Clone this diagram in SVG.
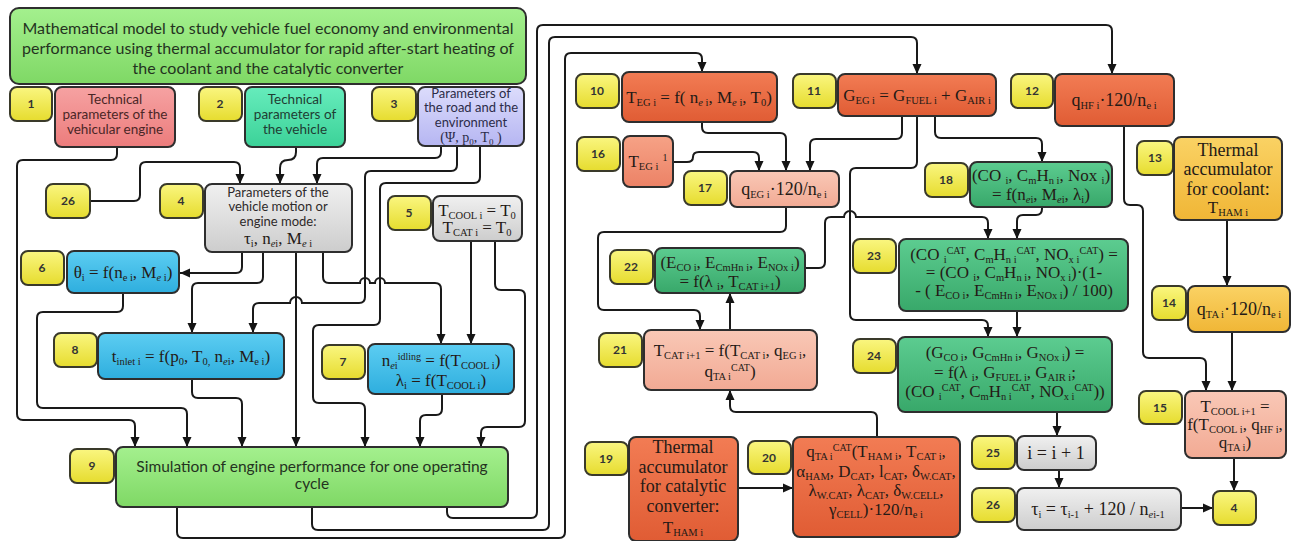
<svg xmlns="http://www.w3.org/2000/svg" width="1296" height="541" viewBox="0 0 1296 541">
<defs>
<linearGradient id="gG" x1="0" y1="0" x2="0" y2="1"><stop offset="0" stop-color="#a4f08e"/><stop offset="1" stop-color="#7fd865"/></linearGradient>
<linearGradient id="gY" x1="0" y1="0" x2="0" y2="1"><stop offset="0" stop-color="#faf680"/><stop offset="1" stop-color="#e6dc2e"/></linearGradient>
<linearGradient id="gR" x1="0" y1="0" x2="0" y2="1"><stop offset="0" stop-color="#f6a2a2"/><stop offset="1" stop-color="#ec7c7c"/></linearGradient>
<linearGradient id="gT" x1="0" y1="0" x2="0" y2="1"><stop offset="0" stop-color="#66ecbc"/><stop offset="1" stop-color="#3cd298"/></linearGradient>
<linearGradient id="gL" x1="0" y1="0" x2="0" y2="1"><stop offset="0" stop-color="#dcdcfc"/><stop offset="1" stop-color="#b6b6f2"/></linearGradient>
<linearGradient id="gS" x1="0" y1="0" x2="0" y2="1"><stop offset="0" stop-color="#f0f0f0"/><stop offset="1" stop-color="#cdcdcd"/></linearGradient>
<linearGradient id="gB" x1="0" y1="0" x2="0" y2="1"><stop offset="0" stop-color="#5ccdf2"/><stop offset="1" stop-color="#2eaede"/></linearGradient>
<linearGradient id="gO" x1="0" y1="0" x2="0" y2="1"><stop offset="0" stop-color="#f27c54"/><stop offset="1" stop-color="#e05c34"/></linearGradient>
<linearGradient id="gP" x1="0" y1="0" x2="0" y2="1"><stop offset="0" stop-color="#f6a286"/><stop offset="1" stop-color="#ec8266"/></linearGradient>
<linearGradient id="gQ" x1="0" y1="0" x2="0" y2="1"><stop offset="0" stop-color="#f9c8b6"/><stop offset="1" stop-color="#f2aa94"/></linearGradient>
<linearGradient id="gE" x1="0" y1="0" x2="0" y2="1"><stop offset="0" stop-color="#5ccc90"/><stop offset="1" stop-color="#38a86a"/></linearGradient>
<linearGradient id="gA" x1="0" y1="0" x2="0" y2="1"><stop offset="0" stop-color="#fad264"/><stop offset="1" stop-color="#f0b636"/></linearGradient>
<marker id="ah" viewBox="0 0 10 10" refX="10" refY="5" markerWidth="10" markerHeight="10" markerUnits="userSpaceOnUse" orient="auto"><path d="M0,0.5 L10,5 L0,9.5 z" fill="#151515"/></marker>
</defs>
<style>
.bx{stroke:#2e2e2e;stroke-width:2}
.bd{fill:url(#gY);stroke:#3a3a2a;stroke-width:2}
.n{font-family:Lato,"Open Sans","DejaVu Sans",sans-serif;font-size:12px;font-weight:bold;fill:#333;text-anchor:middle}
.t{font-family:Lato,"Open Sans","DejaVu Sans",sans-serif;font-size:13.5px;fill:#2e2a2a;text-anchor:middle}
.f{font-family:"Liberation Serif","DejaVu Serif",serif;font-size:17px;fill:#241a16;text-anchor:middle}
.s{font-size:10.5px;baseline-shift:-3px}
.p{font-size:10px;baseline-shift:6px}
.e{font-style:italic}
#connectors path{fill:none;stroke:#1a1a1a;stroke-width:2}
.a{marker-end:url(#ah)}
</style>
<rect width="1296" height="541" fill="#ffffff"/>

<g id="connectors">
<path class="a" d="M117,147 V154 Q117,160 111,160 H23 Q17,160 17,166 V414 Q17,420 23,420 H129 Q135,420 135,426 V447"/>
<path class="a" d="M90,201 H134 Q140,201 140,195 V168 Q140,162 146,162 H234 Q240,162 240,168 V184"/>
<path class="a" d="M296,147 V152 Q296,160 288,160 Q280,160 280,168 V184"/>
<path class="a" d="M441,146 V152 Q441,158 435,158 H323 Q317,158 317,164 V184"/>
<path class="a" d="M457,146 V165 Q457,171 451,171 H371 Q365,171 365,177 V297 Q365,303 359,303 H302 A6,6 0 0 0 290,303 H259 Q253,303 253,309 V333"/>
<path class="a" d="M480,146 V177 Q480,183 474,183 H386 Q380,183 380,189 V319 Q380,325 374,325 H319 Q313,325 313,331 V397 Q313,403 319,403 H359 Q365,403 365,409 V447"/>
<path class="a" d="M242,252 V267 Q242,273 236,273 H180"/>
<path class="a" d="M263,252 V277 Q263,283 257,283 H198 Q192,283 192,289 V333"/>
<path class="a" d="M296,252 V447"/>
<path class="a" d="M323,252 V277 Q323,283 329,283 H360 A5,5 0 0 1 370,283 H375 A5,5 0 0 1 385,283 H435 Q441,283 441,289 V344"/>
<path class="a" d="M471,241 V344"/>
<path class="a" d="M495,241 V284 Q495,290 501,290 H519 Q525,290 525,296 V421 Q525,427 519,427 H487 Q481,427 481,433 V447"/>
<path class="a" d="M442,394 V409 Q442,415 436,415 H426 Q420,415 420,421 V447"/>
<path class="a" d="M123,293 V306 Q123,312 117,312 H43 Q37,312 37,318 V402 Q37,408 43,408 H181 Q187,408 187,414 V447"/>
<path class="a" d="M192,379 V392 Q192,398 198,398 H236 Q242,398 242,404 V447"/>
<path class="a" d="M447,507 V512 Q447,518 453,518 H531 Q537,518 537,512 V31 Q537,25 543,25 H1106 Q1112,25 1112,31 V74"/>
<path class="a" d="M312,507 V524 Q312,530 318,530 H543 Q549,530 549,524 V43 Q549,37 555,37 H911 Q917,37 917,43 V74"/>
<path class="a" d="M177,507 V532 Q177,538 183,538 H559 Q565,538 565,532 V59 Q565,53 571,53 H696 Q702,53 702,59 V72"/>
<path class="a" d="M702,122 V127 Q702,133 708,133 H780 Q786,133 786,139 V171"/>
<path class="a" d="M673,162 H687 Q693,162 693,157 Q693,152 699,152 H753 Q759,152 759,158 V171"/>
<path class="a" d="M902,116 V133 Q902,139 896,139 H816 Q810,139 810,145 V171"/>
<path class="a" d="M917,116 V162 Q917,168 911,168 H856 Q850,168 850,174 V314 Q850,320 856,320 H982 Q988,320 988,326 V337"/>
<path class="a" d="M935,116 V132 Q935,138 941,138 H1036 Q1042,138 1042,144 V162"/>
<path class="a" d="M1042,207 V209 Q1042,215 1036,215 H1023 Q1017,215 1017,221 V239"/>
<path class="a" d="M805,268 H819 Q825,268 825,262 V223 Q825,217 831,217 H844 A6,6 0 0 1 856,217 H982 Q988,217 988,223 V239"/>
<path class="a" d="M1017,311 V337"/>
<path class="a" d="M786,207 V226 Q786,232 780,232 H604 Q598,232 598,238 V304 Q598,310 604,310 H694 Q700,310 700,316 V330"/>
<path class="a" d="M730,330 V293"/>
<path class="a" d="M877,437 V418 Q877,412 871,412 H736 Q730,412 730,406 V390"/>
<path class="a" d="M738,488 H793"/>
<path class="a" d="M1124,126 V199 Q1124,205 1130,205 H1137 Q1143,205 1143,211 V352 Q1143,358 1149,358 H1200 Q1206,358 1206,364 V391"/>
<path class="a" d="M1227,220 V286"/>
<path class="a" d="M1232,332 V391"/>
<path class="a" d="M1057,412 V436"/>
<path class="a" d="M1059,470 V488"/>
<path class="a" d="M1181,508 H1213"/>
<path class="a" d="M1234,458 V491"/>
</g>

<g id="title">
<rect class="bx" x="10" y="8" width="516" height="76" rx="9" fill="url(#gG)"/>
<text class="t" x="268" y="34" style="font-size:16px;fill:#24331f">Mathematical model to study vehicle fuel economy and environmental</text>
<text class="t" x="268" y="54" style="font-size:16px;fill:#24331f">performance using thermal accumulator for rapid after-start heating of</text>
<text class="t" x="268" y="74" style="font-size:16px;fill:#24331f">the coolant and the catalytic converter</text>
</g>

<g id="node-1">
<rect class="bd" x="10" y="87" width="42" height="34" rx="7"/><text class="n" x="31" y="108">1</text>
<rect class="bx" x="55" y="87" width="120" height="60" rx="7" fill="url(#gR)"/>
<text class="t" x="115" y="104" style="fill:#4a2626">Technical</text>
<text class="t" x="115" y="119" style="fill:#4a2626">parameters of the</text>
<text class="t" x="115" y="134" style="fill:#4a2626">vehicular engine</text>
</g>

<g id="node-2">
<rect class="bd" x="199" y="87" width="43" height="34" rx="7"/><text class="n" x="220" y="108">2</text>
<rect class="bx" x="245" y="87" width="100" height="60" rx="7" fill="url(#gT)"/>
<text class="t" x="295" y="104" style="fill:#1f3d33">Technical</text>
<text class="t" x="295" y="119" style="fill:#1f3d33">parameters of</text>
<text class="t" x="295" y="134" style="fill:#1f3d33">the vehicle</text>
</g>

<g id="node-3">
<rect class="bd" x="372" y="87" width="44" height="34" rx="7"/><text class="n" x="394" y="108">3</text>
<rect class="bx" x="418" y="87" width="106" height="59" rx="7" fill="url(#gL)"/>
<text class="t" x="471" y="98" style="font-size:13px;fill:#2c2c48">Parameters of</text>
<text class="t" x="471" y="112" style="font-size:13px;fill:#2c2c48">the road and the</text>
<text class="t" x="471" y="127" style="font-size:13px;fill:#2c2c48">environment</text>
<text class="f" x="471" y="142" style="font-size:14px;fill:#2c2c48">(Ψ, p<tspan class="s" style="font-size:9px">0</tspan>, T<tspan class="s" style="font-size:9px">0</tspan> )</text>
</g>

<g id="ref-26a">
<rect class="bd" x="46" y="184" width="44" height="34" rx="7"/><text class="n" x="68" y="205">26</text>
</g>

<g id="node-4">
<rect class="bd" x="160" y="184" width="43" height="34" rx="7"/><text class="n" x="181" y="205">4</text>
<rect class="bx" x="205" y="184" width="147" height="68" rx="7" fill="url(#gS)"/>
<text class="t" x="278" y="197" style="font-size:13px">Parameters of the</text>
<text class="t" x="278" y="211" style="font-size:13px">vehicle motion or</text>
<text class="t" x="278" y="226" style="font-size:13px">engine mode:</text>
<text class="f" x="278" y="244">τ<tspan class="s">i</tspan>, n<tspan class="s"><tspan class="e">e</tspan>i</tspan>, M<tspan class="s"><tspan class="e">e</tspan> i</tspan></text>
</g>

<g id="node-5">
<rect class="bd" x="388" y="196" width="43" height="34" rx="7"/><text class="n" x="409" y="217">5</text>
<rect class="bx" x="433" y="196" width="89" height="45" rx="7" fill="url(#gS)"/>
<text class="f" x="477" y="216">T<tspan class="s">COOL i</tspan> = T<tspan class="s">0</tspan></text>
<text class="f" x="477" y="233">T<tspan class="s">CAT i</tspan> = T<tspan class="s">0</tspan></text>
</g>

<g id="node-6">
<rect class="bd" x="21" y="251" width="43" height="34" rx="7"/><text class="n" x="42" y="272">6</text>
<rect class="bx" x="67" y="251" width="112" height="42" rx="7" fill="url(#gB)"/>
<text class="f" x="123" y="278">θ<tspan class="s">i</tspan> = f(n<tspan class="s">e i</tspan>, M<tspan class="s"><tspan class="e">e</tspan> i</tspan>)</text>
</g>

<g id="node-8">
<rect class="bd" x="54" y="333" width="43" height="34" rx="7"/><text class="n" x="75" y="354">8</text>
<rect class="bx" x="98" y="333" width="186" height="46" rx="7" fill="url(#gB)"/>
<text class="f" x="191" y="362">t<tspan class="s">inlet i</tspan> = f(p<tspan class="s">0</tspan>, T<tspan class="s">0,</tspan> n<tspan class="s"><tspan class="e">e</tspan>i</tspan>, M<tspan class="s">e i</tspan>)</text>
</g>

<g id="node-7">
<rect class="bd" x="322" y="345" width="43" height="34" rx="7"/><text class="n" x="343" y="366">7</text>
<rect class="bx" x="368" y="344" width="146" height="50" rx="7" fill="url(#gB)"/>
<text class="f" x="441" y="366">n<tspan class="s"><tspan class="e">e</tspan>i</tspan><tspan class="p">idling</tspan> = f(T<tspan class="s">COOL i</tspan>)</text>
<text class="f" x="441" y="386">λ<tspan class="s">i</tspan> = f(T<tspan class="s">COOL i</tspan>)</text>
</g>

<g id="node-9">
<rect class="bd" x="70" y="449" width="44" height="34" rx="7"/><text class="n" x="92" y="470">9</text>
<rect class="bx" x="116" y="447" width="392" height="60" rx="7" fill="url(#gG)"/>
<text class="t" x="312" y="472" style="font-size:15.5px;fill:#24331f">Simulation of engine performance for one operating</text>
<text class="t" x="312" y="489" style="font-size:15.5px;fill:#24331f">cycle</text>
</g>

<g id="node-10">
<rect class="bd" x="576" y="74" width="43" height="34" rx="7"/><text class="n" x="597" y="95">10</text>
<rect class="bx" x="622" y="72" width="155" height="50" rx="7" fill="url(#gO)"/>
<text class="f" x="699" y="103">T<tspan class="s">EG i</tspan> = f( n<tspan class="s"><tspan class="e">e</tspan> i</tspan>, M<tspan class="s"><tspan class="e">e</tspan> i</tspan>, T<tspan class="s">0</tspan>)</text>
</g>

<g id="node-11">
<rect class="bd" x="793" y="74" width="43" height="34" rx="7"/><text class="n" x="814" y="95">11</text>
<rect class="bx" x="838" y="74" width="158" height="42" rx="7" fill="url(#gO)"/>
<text class="f" x="917" y="101">G<tspan class="s">EG i</tspan> = G<tspan class="s">FUEL i</tspan> + G<tspan class="s">AIR i</tspan></text>
</g>

<g id="node-12">
<rect class="bd" x="1011" y="74" width="42" height="34" rx="7"/><text class="n" x="1032" y="95">12</text>
<rect class="bx" x="1055" y="74" width="119" height="52" rx="7" fill="url(#gO)"/>
<text class="f" x="1114" y="106" style="font-size:18px">q<tspan class="s">HF i</tspan>·120/n<tspan class="s">e i</tspan></text>
</g>

<g id="node-16">
<rect class="bd" x="577" y="137" width="43" height="34" rx="7"/><text class="n" x="598" y="158">16</text>
<rect class="bx" x="623" y="136" width="50" height="51" rx="7" fill="url(#gP)"/>
<text class="f" x="648" y="167">T<tspan class="s">EG i</tspan> <tspan class="p">1</tspan></text>
</g>

<g id="node-17">
<rect class="bd" x="684" y="171" width="43" height="34" rx="7"/><text class="n" x="705" y="192">17</text>
<rect class="bx" x="730" y="171" width="109" height="36" rx="7" fill="url(#gQ)"/>
<text class="f" x="784" y="195" style="font-size:18px">q<tspan class="s">EG i</tspan>·120/n<tspan class="s">e i</tspan></text>
</g>

<g id="node-18">
<rect class="bd" x="925" y="163" width="43" height="34" rx="7"/><text class="n" x="946" y="184">18</text>
<rect class="bx" x="970" y="162" width="142" height="45" rx="7" fill="url(#gE)"/>
<text class="f" x="1041" y="181">(CO <tspan class="s">i</tspan>, C<tspan class="s">m</tspan>H<tspan class="s">n i</tspan>, Nox <tspan class="s">i</tspan>)</text>
<text class="f" x="1041" y="200">= f(n<tspan class="s"><tspan class="e">e</tspan>i</tspan>, M<tspan class="s"><tspan class="e">e</tspan>i</tspan>, λ<tspan class="s">i</tspan>)</text>
</g>

<g id="node-13">
<rect class="bd" x="1137" y="141" width="36" height="34" rx="7"/><text class="n" x="1155" y="162">13</text>
<rect class="bx" x="1174" y="137" width="108" height="83" rx="7" fill="url(#gA)"/>
<text class="f" x="1228" y="156" style="font-size:18px">Thermal</text>
<text class="f" x="1228" y="175" style="font-size:18px">accumulator</text>
<text class="f" x="1228" y="195" style="font-size:18px">for coolant:</text>
<text class="f" x="1228" y="213">T<tspan class="s">HAM i</tspan></text>
</g>

<g id="node-14">
<rect class="bd" x="1152" y="286" width="34" height="34" rx="7"/><text class="n" x="1169" y="307">14</text>
<rect class="bx" x="1188" y="286" width="102" height="46" rx="7" fill="url(#gA)"/>
<text class="f" x="1239" y="315" style="font-size:18px">q<tspan class="s">TA i</tspan>·120/n<tspan class="s">e i</tspan></text>
</g>

<g id="node-22">
<rect class="bd" x="610" y="250" width="43" height="34" rx="7"/><text class="n" x="631" y="271">22</text>
<rect class="bx" x="655" y="248" width="150" height="45" rx="7" fill="url(#gE)"/>
<text class="f" x="730" y="268">(E<tspan class="s">CO i</tspan>, E<tspan class="s">CmHn i</tspan>, E<tspan class="s">NOx i</tspan>)</text>
<text class="f" x="730" y="287">= f(λ <tspan class="s">i</tspan>, T<tspan class="s">CAT i+1</tspan>)</text>
</g>

<g id="node-23">
<rect class="bd" x="853" y="239" width="43" height="34" rx="7"/><text class="n" x="874" y="260">23</text>
<rect class="bx" x="899" y="239" width="229" height="72" rx="7" fill="url(#gE)"/>
<text class="f" x="1014" y="260">(CO <tspan class="s">i</tspan><tspan class="p">CAT</tspan>, C<tspan class="s">m</tspan>H<tspan class="s">n i</tspan><tspan class="p">CAT</tspan>, NO<tspan class="s">x i</tspan><tspan class="p">CAT</tspan>) =</text>
<text class="f" x="1014" y="278">= (CO <tspan class="s">i</tspan>, C<tspan class="s">m</tspan>H<tspan class="s">n i</tspan>, NO<tspan class="s">x i</tspan>)·(1-</text>
<text class="f" x="1014" y="296">- ( E<tspan class="s">CO i</tspan>, E<tspan class="s">CmHn i</tspan>, E<tspan class="s">NOx i</tspan>) / 100)</text>
</g>

<g id="node-21">
<rect class="bd" x="599" y="333" width="43" height="34" rx="7"/><text class="n" x="620" y="354">21</text>
<rect class="bx" x="644" y="330" width="173" height="60" rx="7" fill="url(#gQ)"/>
<text class="f" x="730" y="356">T<tspan class="s">CAT i+1</tspan> = f(T<tspan class="s">CAT i</tspan>, q<tspan class="s">EG i</tspan>,</text>
<text class="f" x="730" y="377">q<tspan class="s">TA i</tspan><tspan class="p">CAT</tspan>)</text>
</g>

<g id="node-24">
<rect class="bd" x="853" y="339" width="43" height="34" rx="7"/><text class="n" x="874" y="360">24</text>
<rect class="bx" x="898" y="337" width="214" height="75" rx="7" fill="url(#gE)"/>
<text class="f" x="1005" y="358">(G<tspan class="s">CO i</tspan>, G<tspan class="s">CmHn i</tspan>, G<tspan class="s">NOx i</tspan>) =</text>
<text class="f" x="1005" y="378">= f(λ <tspan class="s">i</tspan>, G<tspan class="s">FUEL i</tspan>, G<tspan class="s">AIR i</tspan>;</text>
<text class="f" x="1005" y="397">(CO <tspan class="s">i</tspan><tspan class="p">CAT</tspan>, C<tspan class="s">m</tspan>H<tspan class="s">n i</tspan><tspan class="p">CAT</tspan>, NO<tspan class="s">x i</tspan><tspan class="p">CAT</tspan>))</text>
</g>

<g id="node-25">
<rect class="bd" x="972" y="436" width="43" height="33" rx="7"/><text class="n" x="993" y="457">25</text>
<rect class="bx" x="1017" y="436" width="79" height="34" rx="7" fill="url(#gS)"/>
<text class="f" x="1056" y="459" style="font-size:18px">i = i + 1</text>
</g>

<g id="node-26">
<rect class="bd" x="972" y="488" width="43" height="34" rx="7"/><text class="n" x="993" y="509">26</text>
<rect class="bx" x="1017" y="488" width="164" height="42" rx="7" fill="url(#gS)"/>
<text class="f" x="1098" y="515" style="font-size:18px">τ<tspan class="s">i</tspan> = τ<tspan class="s">i-1</tspan> + 120 / n<tspan class="s"><tspan class="e">e</tspan>i-1</tspan></text>
</g>

<g id="ref-4b">
<rect class="bd" x="1213" y="491" width="43" height="34" rx="7"/><text class="n" x="1234" y="512">4</text>
</g>

<g id="node-15">
<rect class="bd" x="1139" y="391" width="43" height="33" rx="7"/><text class="n" x="1160" y="412">15</text>
<rect class="bx" x="1185" y="391" width="101" height="67" rx="7" fill="url(#gQ)"/>
<text class="f" x="1235" y="412">T<tspan class="s">COOL i+1</tspan> =</text>
<text class="f" x="1235" y="430">f(T<tspan class="s">COOL i</tspan>, q<tspan class="s">HF i</tspan>,</text>
<text class="f" x="1235" y="448">q<tspan class="s">TA i</tspan>)</text>
</g>

<g id="node-19">
<rect class="bd" x="585" y="442" width="43" height="33" rx="7"/><text class="n" x="606" y="463">19</text>
<rect class="bx" x="629" y="437" width="109" height="104" rx="7" fill="url(#gO)"/>
<text class="f" x="683" y="453" style="font-size:18px">Thermal</text>
<text class="f" x="683" y="473" style="font-size:18px">accumulator</text>
<text class="f" x="683" y="492" style="font-size:18px">for catalytic</text>
<text class="f" x="683" y="512" style="font-size:18px">converter:</text>
<text class="f" x="683" y="533">T<tspan class="s">HAM i</tspan></text>
</g>

<g id="node-20">
<rect class="bd" x="748" y="441" width="43" height="33" rx="7"/><text class="n" x="769" y="462">20</text>
<rect class="bx" x="793" y="437" width="167" height="100" rx="7" fill="url(#gO)"/>
<text class="f" x="876" y="457">q<tspan class="s">TA i</tspan><tspan class="p">CAT</tspan>(T<tspan class="s">HAM i</tspan>, T<tspan class="s">CAT i</tspan>,</text>
<text class="f" x="876" y="477">α<tspan class="s">HAM</tspan>, D<tspan class="s">CAT</tspan>, l<tspan class="s">CAT</tspan>, δ<tspan class="s">W.CAT</tspan>,</text>
<text class="f" x="876" y="496">λ<tspan class="s">W.CAT</tspan>, λ<tspan class="s">CAT</tspan>, δ<tspan class="s">W.CELL</tspan>,</text>
<text class="f" x="876" y="515">γ<tspan class="s">CELL</tspan>)·120/n<tspan class="s">e i</tspan></text>
</g>
</svg>
